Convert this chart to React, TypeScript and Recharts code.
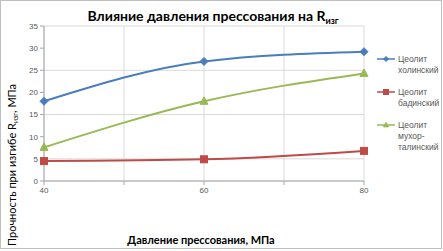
import React from "react";
import { LineChart, Line, XAxis, YAxis, CartesianGrid } from "recharts";

const pressures = [40, 60, 80];
const kholinsky = [18, 27, 29.2];
const badinsky = [4.5, 4.9, 6.8];
const mukhortalinsky = [7.6, 18, 24.3];
const xTicks = [40, 50, 60, 70, 80];
const yTicks = [0, 5, 10, 15, 20, 25, 30, 35];

const data = pressures.map((p, i) => ({
  p,
  kh: kholinsky[i],
  bad: badinsky[i],
  muh: mukhortalinsky[i],
}));

const BLUE = "#4a7ebb";
const RED = "#be4b48";
const GREEN = "#98b954";

const Diamond = (props: any) => {
  const { cx, cy, s = 4 } = props;
  if (cx == null || cy == null) return null;
  return <path d={`M${cx},${cy - s}L${cx + s},${cy}L${cx},${cy + s}L${cx - s},${cy}Z`} fill={BLUE} stroke={BLUE} />;
};
const Square = (props: any) => {
  const { cx, cy, s = 3.5 } = props;
  if (cx == null || cy == null) return null;
  return <rect x={cx - s} y={cy - s} width={2 * s} height={2 * s} fill={RED} stroke={RED} />;
};
const Triangle = (props: any) => {
  const { cx, cy, s = 4 } = props;
  if (cx == null || cy == null) return null;
  return <path d={`M${cx},${cy - s * 1.1}L${cx + s},${cy + s * 0.75}L${cx - s},${cy + s * 0.75}Z`} fill={GREEN} stroke={GREEN} />;
};

const legend = [
  { lines: ["Цеолит", "холинский"], color: BLUE, y: 59, Mark: Diamond },
  { lines: ["Цеолит", "бадинский"], color: RED, y: 92, Mark: Square },
  { lines: ["Цеолит", "мухор-", "талинский"], color: GREEN, y: 125, Mark: Triangle },
];

export default function App() {
  return (
    <div style={{ position: "absolute", left: 0, top: 0, width: 443, height: 251, background: "#fff" }}>
      <LineChart width={443} height={251} data={data} margin={{ top: 26, right: 79, bottom: 40, left: 0 }}>
        <CartesianGrid stroke="#d9d9d9" />
        <XAxis
          dataKey="p"
          type="number"
          domain={[40, 80]}
          ticks={xTicks}
          tickFormatter={(v) => (v % 20 === 0 ? String(v) : "")}
          stroke="#a6a6a6"
          tickSize={4}
          tick={{ fontSize: 8, fill: "#595959", fontFamily: "Liberation Sans" }}
        />
        <YAxis
          type="number"
          domain={[0, 35]}
          ticks={yTicks}
          width={44}
          stroke="#a6a6a6"
          tickSize={4}
          tick={{ fontSize: 8, fill: "#595959", fontFamily: "Liberation Sans" }}
        />
        <Line type="monotone" dataKey="kh" stroke={BLUE} strokeWidth={2} dot={<Diamond />} isAnimationActive={false} />
        <Line type="monotone" dataKey="bad" stroke={RED} strokeWidth={2} dot={<Square />} isAnimationActive={false} />
        <Line type="monotone" dataKey="muh" stroke={GREEN} strokeWidth={2} dot={<Triangle />} isAnimationActive={false} />
      </LineChart>
      <svg width={443} height={251} style={{ position: "absolute", left: 0, top: 0, pointerEvents: "none" }}>
        <rect x={0.5} y={0.5} width={441} height={248} fill="none" stroke="#bfbfbf" />
        <text x={213} y={21} textAnchor="middle" fontFamily="Lato" fontWeight="bold" fontSize={14} fill="#000">
          Влияние давления прессования на R
          <tspan fontSize={9} dy={3}>изг</tspan>
        </text>
        <text x={201} y={244} textAnchor="middle" fontFamily="Lato" fontWeight="bold" fontSize={11} fill="#000">
          Давление прессования, МПа
        </text>
        <text transform="translate(16,246) rotate(-90)" textAnchor="start" fontFamily="Lato" fontSize={11} fill="#000">
          Прочность при изгибе R<tspan fontSize={7} dy={2}>изг</tspan>
          <tspan dy={-2}>, МПа</tspan>
        </text>
        {legend.map((item, i) => (
          <g key={i}>
            <line x1={377} x2={395} y1={item.y} y2={item.y} stroke={item.color} strokeWidth={1.5} />
            <item.Mark cx={386} cy={item.y} s={2.5} />
            {item.lines.map((t, j) => (
              <text key={j} x={398} y={item.y + 3 + j * 11} fontFamily="Liberation Sans" fontSize={8.5} fill="#595959">
                {t}
              </text>
            ))}
          </g>
        ))}
      </svg>
    </div>
  );
}
